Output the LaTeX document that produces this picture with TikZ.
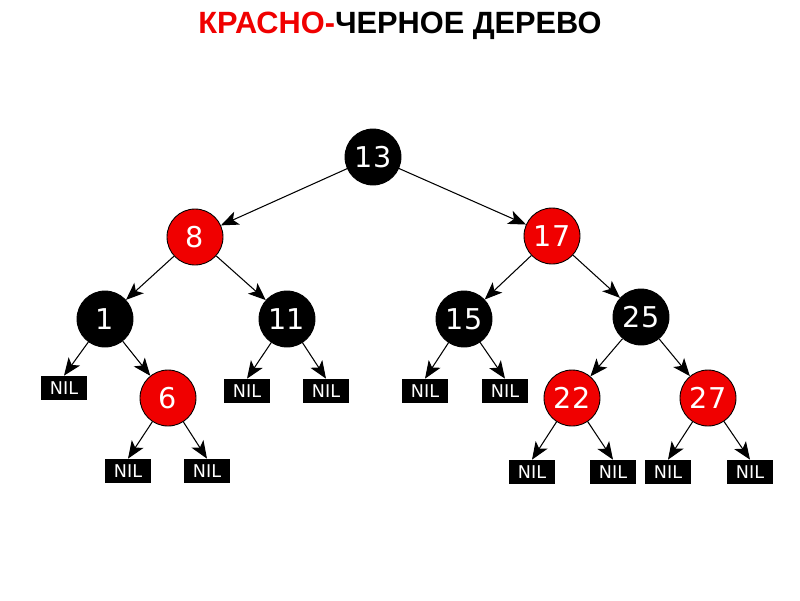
\documentclass[tikz,border=0pt]{standalone}
\usepackage{fontspec}
\setmainfont{Liberation Sans}
\newfontfamily\dejavu{DejaVu Sans}
\usepackage{xcolor}
\usetikzlibrary{positioning,arrows.meta}

\definecolor{rbred}{RGB}{240,0,0}

\tikzset{
	rbnode/.style={circle,draw=black,line width=0.5pt,minimum size=1.12cm,inner sep=0pt,
		text=white,font=\dejavu\fontsize{16.3}{18}\selectfont},
	blacknode/.style={rbnode,fill=black},
	rednode/.style={rbnode,fill=rbred},
	nilbox/.style={rectangle,fill=black,minimum width=0.92cm,minimum height=0.48cm,inner sep=0pt,
		text=white,font=\dejavu\fontsize{10}{11}\selectfont},
	edge/.style={-{Stealth[length=10pt,width=8pt,inset=2.5pt]},line width=0.6pt,black}
}

\begin{document}
\begin{tikzpicture}[x=0.02cm,y=-0.02cm]
	
	\useasboundingbox (0,0) rectangle (800,600);
	
	% title
	\node (title) at (400,26) {\bfseries\fontsize{17.5}{20}\selectfont\textcolor{rbred}{КРАСНО-}ЧЕРНОЕ ДЕРЕВО};
	
	% tree nodes
	\node[blacknode] (n13) at (373,157) {13};
	\node[rednode] (n8) at (195,237) {8};
	\node[rednode] (n17) at (552,236) {17};
	\node[blacknode] (n1) at (105,319) {1};
	\node[blacknode] (n11) at (287,319) {11};
	\node[blacknode] (n15) at (464,319) {15};
	\node[blacknode] (n25) at (641,317) {25};
	\node[rednode] (n6) at (168,398) {6};
	\node[rednode] (n22) at (572,398) {22};
	\node[rednode] (n27) at (708,398) {27};
	
	% leaves
	\node[nilbox] (nil1) at (64,388) {NIL};
	\node[nilbox] (nil11a) at (247,391) {NIL};
	\node[nilbox] (nil11b) at (326,391) {NIL};
	\node[nilbox] (nil15a) at (425,391) {NIL};
	\node[nilbox] (nil15b) at (505,391) {NIL};
	\node[nilbox] (nil6a) at (128,471) {NIL};
	\node[nilbox] (nil6b) at (207,471) {NIL};
	\node[nilbox] (nil22a) at (532,472) {NIL};
	\node[nilbox] (nil22b) at (613,472) {NIL};
	\node[nilbox] (nil27a) at (668,472) {NIL};
	\node[nilbox] (nil27b) at (750,472) {NIL};
	
	% edges
	\draw[edge] (n13) -- (n8);
	\draw[edge] (n13) -- (n17);
	\draw[edge] (n8) -- (n1);
	\draw[edge] (n8) -- (n11);
	\draw[edge] (n17) -- (n15);
	\draw[edge] (n17) -- (n25);
	\draw[edge] (n1) -- (nil1.north);
	\draw[edge] (n1) -- (n6);
	\draw[edge] (n11) -- (nil11a.north);
	\draw[edge] (n11) -- (nil11b.north);
	\draw[edge] (n15) -- (nil15a.north);
	\draw[edge] (n15) -- (nil15b.north);
	\draw[edge] (n25) -- (n22);
	\draw[edge] (n25) -- (n27);
	\draw[edge] (n6) -- (nil6a.north);
	\draw[edge] (n6) -- (nil6b.north);
	\draw[edge] (n22) -- (nil22a.north);
	\draw[edge] (n22) -- (nil22b.north);
	\draw[edge] (n27) -- (nil27a.north);
	\draw[edge] (n27) -- (nil27b.north);
	
\end{tikzpicture}
\end{document}
